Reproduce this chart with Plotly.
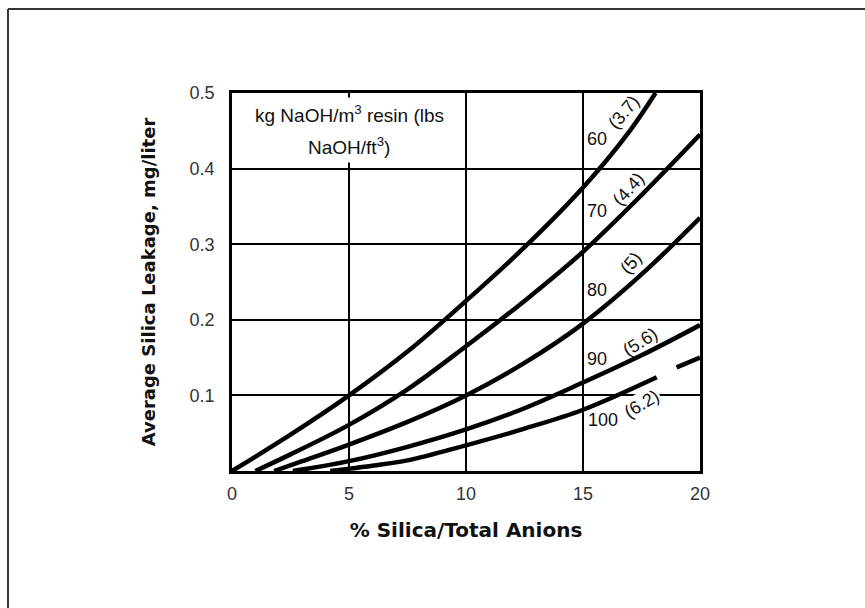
import plotly.graph_objects as go

# Silica leakage vs. silica fraction, one curve per regenerant level
x_60 = [0, 2.5, 5, 7.5, 10, 12.5, 15, 17, 18.1]
y_60 = [0, 0.048, 0.10, 0.158, 0.225, 0.296, 0.375, 0.45, 0.5]

x_70 = [1.0, 2.5, 5, 7.5, 10, 12.5, 15, 17.5, 20]
y_70 = [0, 0.022, 0.061, 0.108, 0.165, 0.225, 0.29, 0.365, 0.445]

x_80 = [1.8, 3, 5, 7.5, 10, 12.5, 15, 17.5, 20]
y_80 = [0, 0.013, 0.035, 0.065, 0.10, 0.143, 0.195, 0.26, 0.335]

x_90 = [2.6, 5, 7.5, 10, 12.5, 15, 17.5, 20]
y_90 = [0, 0.013, 0.032, 0.055, 0.083, 0.117, 0.153, 0.193]

# the 100 kg curve is broken just before x = 19
x_100 = [4.2, 6, 7.5, 10, 12.5, 15, 18.15, None, 19.0, 20]
y_100 = [0, 0.007, 0.014, 0.034, 0.056, 0.081, 0.124, None, 0.137, 0.15]

x_ticks = [0, 5, 10, 15, 20]
y_ticks = [0.1, 0.2, 0.3, 0.4, 0.5]

# curve labels: (text, x, y, angle)
level_labels = [
    ("60", 15.6, 0.439, 0),
    ("70", 15.6, 0.344, 0),
    ("80", 15.6, 0.239, 0),
    ("90", 15.6, 0.148, 0),
    ("100", 15.85, 0.067, 0),
]
lbs_labels = [
    ("(3.7)", 16.75, 0.475, -50),
    ("(4.4)", 16.95, 0.373, -48),
    ("(5)", 17.05, 0.275, -50),
    ("(5.6)", 17.45, 0.170, -32),
    ("(6.2)", 17.5, 0.089, -31),
]

W, H = 865, 608
ML, MR, MT, MB = 232, 165, 93, 137

fig = go.Figure()
for xs, ys in [(x_60, y_60), (x_70, y_70), (x_80, y_80), (x_90, y_90), (x_100, y_100)]:
    fig.add_trace(go.Scatter(
        x=xs, y=ys, mode="lines",
        line=dict(color="black", width=4.5, shape="spline", smoothing=1.0),
        showlegend=False, hoverinfo="skip",
    ))

SANS = "Liberation Sans, Arial, sans-serif"
label_font = dict(family=SANS, size=18, color="#111")
annotations = []
for text, x, y, ang in level_labels:
    annotations.append(dict(x=x, y=y, text=text, showarrow=False, font=label_font,
                            textangle=ang, xanchor="center", yanchor="middle"))
for text, x, y, ang in lbs_labels:
    ann = dict(x=x, y=y, text=text, showarrow=False, font=label_font,
               textangle=ang, xanchor="center", yanchor="middle")
    if text == "(6.2)":
        ann.update(bgcolor="white", borderpad=1)
    annotations.append(ann)

# regenerant legend text in the upper-left cell
legend_font = dict(family=SANS, size=19, color="#111")
annotations.append(dict(x=5, y=0.472, text="kg NaOH/m<sup>3</sup> resin (lbs", showarrow=False,
                        font=legend_font, bgcolor="white", borderpad=4,
                        xanchor="center", yanchor="middle"))
annotations.append(dict(x=5, y=0.430, text="NaOH/ft<sup>3</sup>)", showarrow=False,
                        font=legend_font, bgcolor="white", borderpad=4,
                        xanchor="center", yanchor="middle"))

# page frame (top and left edges)
pw = W - ML - MR
ph = H - MT - MB
def px_x(p):
    return (p - ML) / pw
def px_y(p):
    return (H - MB - p) / ph

shapes = [
    dict(type="line", xref="paper", yref="paper", x0=px_x(8), x1=px_x(W + 5),
         y0=px_y(9), y1=px_y(9), line=dict(color="#333", width=2)),
    dict(type="line", xref="paper", yref="paper", x0=px_x(8), x1=px_x(8),
         y0=px_y(9), y1=px_y(H + 5), line=dict(color="#333", width=2)),
]

tick_font = dict(family=SANS, size=18, color="#333")
BOLD = "DejaVu Sans, Verdana, sans-serif"

fig.update_layout(
    width=W, height=H,
    margin=dict(l=ML, r=MR, t=MT, b=MB, pad=0),
    paper_bgcolor="white", plot_bgcolor="white",
    annotations=annotations, shapes=shapes,
    xaxis=dict(
        range=[0, 20], tickvals=x_ticks, ticktext=[str(v) for v in x_ticks],
        showgrid=True, gridcolor="black", gridwidth=2,
        showline=True, linecolor="black", linewidth=2.5, mirror=True,
        ticks="", ticklabelstandoff=5, tickfont=tick_font, zeroline=False,
        title=dict(text="<b>% Silica/Total Anions</b>",
                   font=dict(family=BOLD, size=20, color="#111"), standoff=20),
    ),
    yaxis=dict(
        range=[0, 0.5], tickvals=y_ticks, ticktext=["%.1f" % v for v in y_ticks],
        showgrid=True, gridcolor="black", gridwidth=2,
        showline=True, linecolor="black", linewidth=2.5, mirror=True,
        ticks="", ticklabelstandoff=11, tickfont=tick_font, zeroline=False,
        title=dict(text="<b>Average Silica Leakage, mg/liter</b>",
                   font=dict(family=BOLD, size=18, color="#111"), standoff=30),
    ),
)

fig.write_html("out.html")
